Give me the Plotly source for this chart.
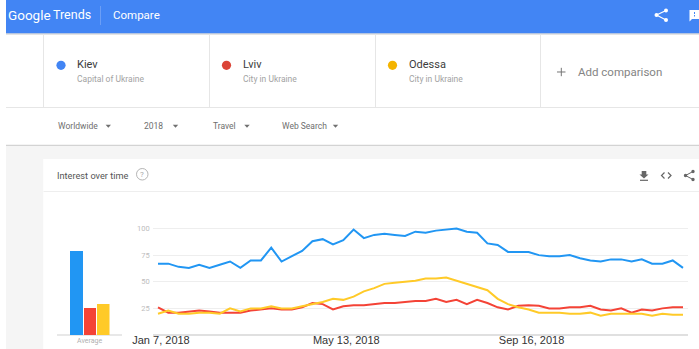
import plotly.graph_objects as go
import pandas as pd

W, H = 699, 349

# ---- data ----
dates = pd.date_range("2018-01-07", periods=52, freq="7D")
kiev = [67, 67, 64, 63, 66, 63, 66, 69, 63, 70, 70, 82, 69, 74, 79, 88, 90, 85, 89, 99, 91, 94, 95, 94, 93, 97,
        96, 98, 99, 100, 97, 96, 86, 84.5, 78, 78, 78, 75, 74, 74, 75, 72, 70, 69, 71, 71, 69, 71, 67, 67, 70, 63]
lviv = [26, 21, 21, 22, 23, 22, 21, 21, 21, 23, 24, 25, 24, 24, 26, 30, 29, 24, 27, 28, 28, 29, 30, 30, 31, 32,
        32, 34, 31, 33, 29, 33, 30, 26, 24, 27.5, 28, 27.5, 25, 25, 26, 26, 27.5, 24, 23, 25, 21, 24, 23, 25, 26, 26]
odessa = [20, 23, 20, 20, 21, 21, 20, 25, 22, 25, 25, 27, 25, 25, 27, 29, 31, 34, 33, 36, 41, 44, 48, 49, 50, 51,
          53, 53, 54, 51, 48, 45, 42, 34, 29, 26, 24, 21, 21, 21, 20, 20, 21, 18, 20, 20, 20, 20, 18, 20, 19, 19]
names = ["Kiev", "Lviv", "Odessa"]
subtitles = ["Capital of Ukraine", "City in Ukraine", "City in Ukraine"]
averages = [78.5, 25.6, 29.3]
line_colors = ["#2196F3", "#F44336", "#FFCA28"]
dot_colors = ["#4285F4", "#DB4437", "#F4B400"]
ytick_vals = [25, 50, 75, 100]
xtick_vals = ["2018-01-07", "2018-05-13", "2018-09-16"]
xtick_text = ["Jan 7, 2018", "May 13, 2018", "Sep 16, 2018"]
filters = ["Worldwide", "2018", "Travel", "Web Search"]

fig = go.Figure()
for name, vals, c in zip(names, [kiev, lviv, odessa], line_colors):
    fig.add_trace(go.Scatter(x=dates, y=vals, mode="lines", name=name, showlegend=False,
                             line=dict(color=c, width=2), xaxis="x", yaxis="y"))
fig.add_trace(go.Bar(x=names, y=averages, marker=dict(color=line_colors, line_width=0), width=0.96,
                     showlegend=False, xaxis="x2", yaxis="y2"))

def px(v): return v / W
def py(v): return 1 - v / H

shapes, annos = [], []
def rect(x0, y0, x1, y1, color):
    shapes.append(dict(type="rect", xref="paper", yref="paper", x0=px(x0), x1=px(x1), y0=py(y0), y1=py(y1),
                       fillcolor=color, line_width=0, layer="below"))
def line(x0, y0, x1, y1, color, w=1):
    shapes.append(dict(type="line", xref="paper", yref="paper", x0=px(x0), x1=px(x1), y0=py(y0), y1=py(y1),
                       line=dict(color=color, width=w), layer="below"))
def path(d, fill="rgba(0,0,0,0)", color="rgba(0,0,0,0)", w=0):
    shapes.append(dict(type="path", xref="paper", yref="paper", path=d, fillcolor=fill,
                       line=dict(color=color, width=w), layer="above"))
def P(pts, close=True):
    s = "M " + " L ".join(f"{px(a):.5f} {py(b):.5f}" for a, b in pts)
    return s + (" Z" if close else "")
def dot(cx, cy, r, color):
    shapes.append(dict(type="circle", xref="paper", yref="paper", x0=px(cx - r), x1=px(cx + r),
                       y0=py(cy + r), y1=py(cy - r), fillcolor=color, line_width=0, layer="above"))
def text(x, y, s, size, color, anchor="left", family="Roboto, sans-serif"):
    annos.append(dict(xref="paper", yref="paper", x=px(x), y=py(y), text=s, showarrow=False, xanchor=anchor,
                      yanchor="middle", font=dict(size=size, color=color, family=family), borderpad=0))

# page regions
rect(6, 0, W, 33.5, "#4285F4")
line(6, 34, W, 34, "#C9C9C9", 1)
line(6, 107.5, W, 107.5, "#E6E6E6", 1)
line(6, 145.3, W, 145.3, "#C8C8C8", 1)
rect(6, 146, W, 159, "#F5F5F5")
rect(6, 146, 43.5, H, "#F5F5F5")
rect(43.5, 159, W, H, "#FFFFFF")
line(43.5, 191.5, W, 191.5, "#EEEEEE", 1)
for x in [43.5, 209.5, 375.5, 540.5]:
    line(x, 34.5, x, 107, "#E6E6E6", 1)

# header
text(7, 14.5, "Google", 13.5, "#FFFFFF")
text(52, 14.5, "Trends", 12.5, "#FFFFFF")
line(100.5, 6, 100.5, 25, "#6B9EF6", 1)
text(112, 14.7, "Compare", 11.5, "#FFFFFF")
# share icon (header)
for cx, cy in [(656.5, 15), (666, 10.5), (666, 20)]:
    dot(cx, cy, 2, "#FFFFFF")
path(P([(656.5, 15), (666, 10.5)], False), color="#FFFFFF", w=1.2)
path(P([(656.5, 15), (666, 20)], False), color="#FFFFFF", w=1.2)
# feedback icon (header)
path(P([(689.5, 10), (699, 10), (699, 19), (692, 19), (689.5, 21.5)]), fill="#FFFFFF")
rect(694, 12, 695, 14, "#4285F4"); shapes[-1]["layer"] = "above"
rect(694, 15, 695, 16.5, "#4285F4"); shapes[-1]["layer"] = "above"

# term cards
for cx, tx, n, sub, c in zip([61, 226.5, 392.5], [76, 242, 407.5], names, subtitles, dot_colors):
    dot(cx, 65.3, 4.6, c)
    text(tx, 64.5, n, 11, "#3C3C3C")
    text(tx, 78.5, sub, 8.5, "#A3A3A3")
path(P([(557, 72), (565.5, 72)], False), color="#757575", w=1)
path(P([(561.3, 67.8), (561.3, 76.2)], False), color="#757575", w=1)
text(576.5, 72.3, "Add comparison", 11.5, "#848484")

# filter row
for x, s, ax in zip([57, 142.5, 212, 281], filters, [108.3, 175.5, 247, 335.5]):
    text(x, 126.3, s, 8.5, "#6E6E6E")
    path(P([(ax - 2.7, 124.7), (ax + 2.7, 124.7), (ax, 127.7)]), fill="#707070")

# card title and tools
text(56, 175, "Interest over time", 9.2, "#555555")
shapes.append(dict(type="circle", xref="paper", yref="paper", x0=px(136.5), x1=px(148), y0=py(180), y1=py(168.5),
                   fillcolor="rgba(0,0,0,0)", line=dict(color="#B5B5B5", width=1), layer="above"))
text(142.3, 174.5, "?", 8, "#A8A8A8", "center")
path(P([(641.7, 171), (646.3, 171), (646.3, 174.5), (648.5, 174.5), (644, 178.5), (639.5, 174.5), (641.7, 174.5)]), fill="#666666")
path(P([(640, 180.3), (648, 180.3)], False), color="#666666", w=1.2)
path(P([(664.5, 172.5), (661.5, 175.5), (664.5, 178.5)], False), color="#666666", w=1.2)
path(P([(668, 172.5), (671, 175.5), (668, 178.5)], False), color="#666666", w=1.2)
for cx, cy in [(685.5, 175.5), (693, 171.5), (693, 179.5)]:
    dot(cx, cy, 1.7, "#666666")
path(P([(685.5, 175.5), (693, 171.5)], False), color="#666666", w=1)
path(P([(685.5, 175.5), (693, 179.5)], False), color="#666666", w=1)

# bar chart baseline and label
line(57, 335, 122, 335, "#E0E0E0", 1.5)
text(89.5, 340.5, "Average", 7, "#B0B0B0", "center")

# main axes: data-to-pixel mapping
x_left, x_right = 152.7, 688
day = (683 - 158) / (51 * 7)
x0 = dates[0] - pd.Timedelta(days=(158 - x_left) / day)
x1 = dates[-1] + pd.Timedelta(days=(x_right - 683) / day)
y_per_unit = 1.065
y_top = 222
y_base = 335

fig.update_layout(
    width=W, height=H, autosize=False, margin=dict(l=0, r=0, t=0, b=0, pad=0),
    paper_bgcolor="#FFFFFF", plot_bgcolor="rgba(0,0,0,0)", shapes=shapes, annotations=annos, bargap=0,
    xaxis=dict(domain=[px(x_left), px(x_right)], range=[x0, x1], type="date", tickmode="array", automargin=False,
               tickvals=xtick_vals, ticktext=xtick_text, showgrid=False, zeroline=False, showline=False, ticks="",
               ticklabelstandoff=-3, ticklabelshift=3,
               tickfont=dict(size=11, color="#333333", family="Liberation Sans, Arial")),
    yaxis=dict(domain=[py(y_base), py(y_top)], range=[0, (y_base - y_top) / y_per_unit], tickmode="array",
               automargin=False, tickvals=ytick_vals, ticktext=["25", "50", "75", "100"], showgrid=True,
               gridcolor="#EEEEEE", gridwidth=1, zeroline=True, zerolinecolor="#E0E0E0", zerolinewidth=2,
               showline=False, ticks="", ticklabelstandoff=2,
               tickfont=dict(size=7.5, color="#BDBDBD", family="Roboto, sans-serif")),
    xaxis2=dict(domain=[px(69.5), px(109.5)], range=[-0.5, 2.5], anchor="y2", showticklabels=False, showgrid=False,
                zeroline=False, showline=False, ticks="", automargin=False),
    yaxis2=dict(domain=[py(y_base), py(y_top)], range=[0, (y_base - y_top) / y_per_unit], anchor="x2",
                showticklabels=False, showgrid=False, zeroline=False, showline=False, ticks="", automargin=False),
)

fig.write_html("out.html", config={"displayModeBar": False},
               post_script="document.body.style.margin='0';document.body.style.overflow='hidden';")
